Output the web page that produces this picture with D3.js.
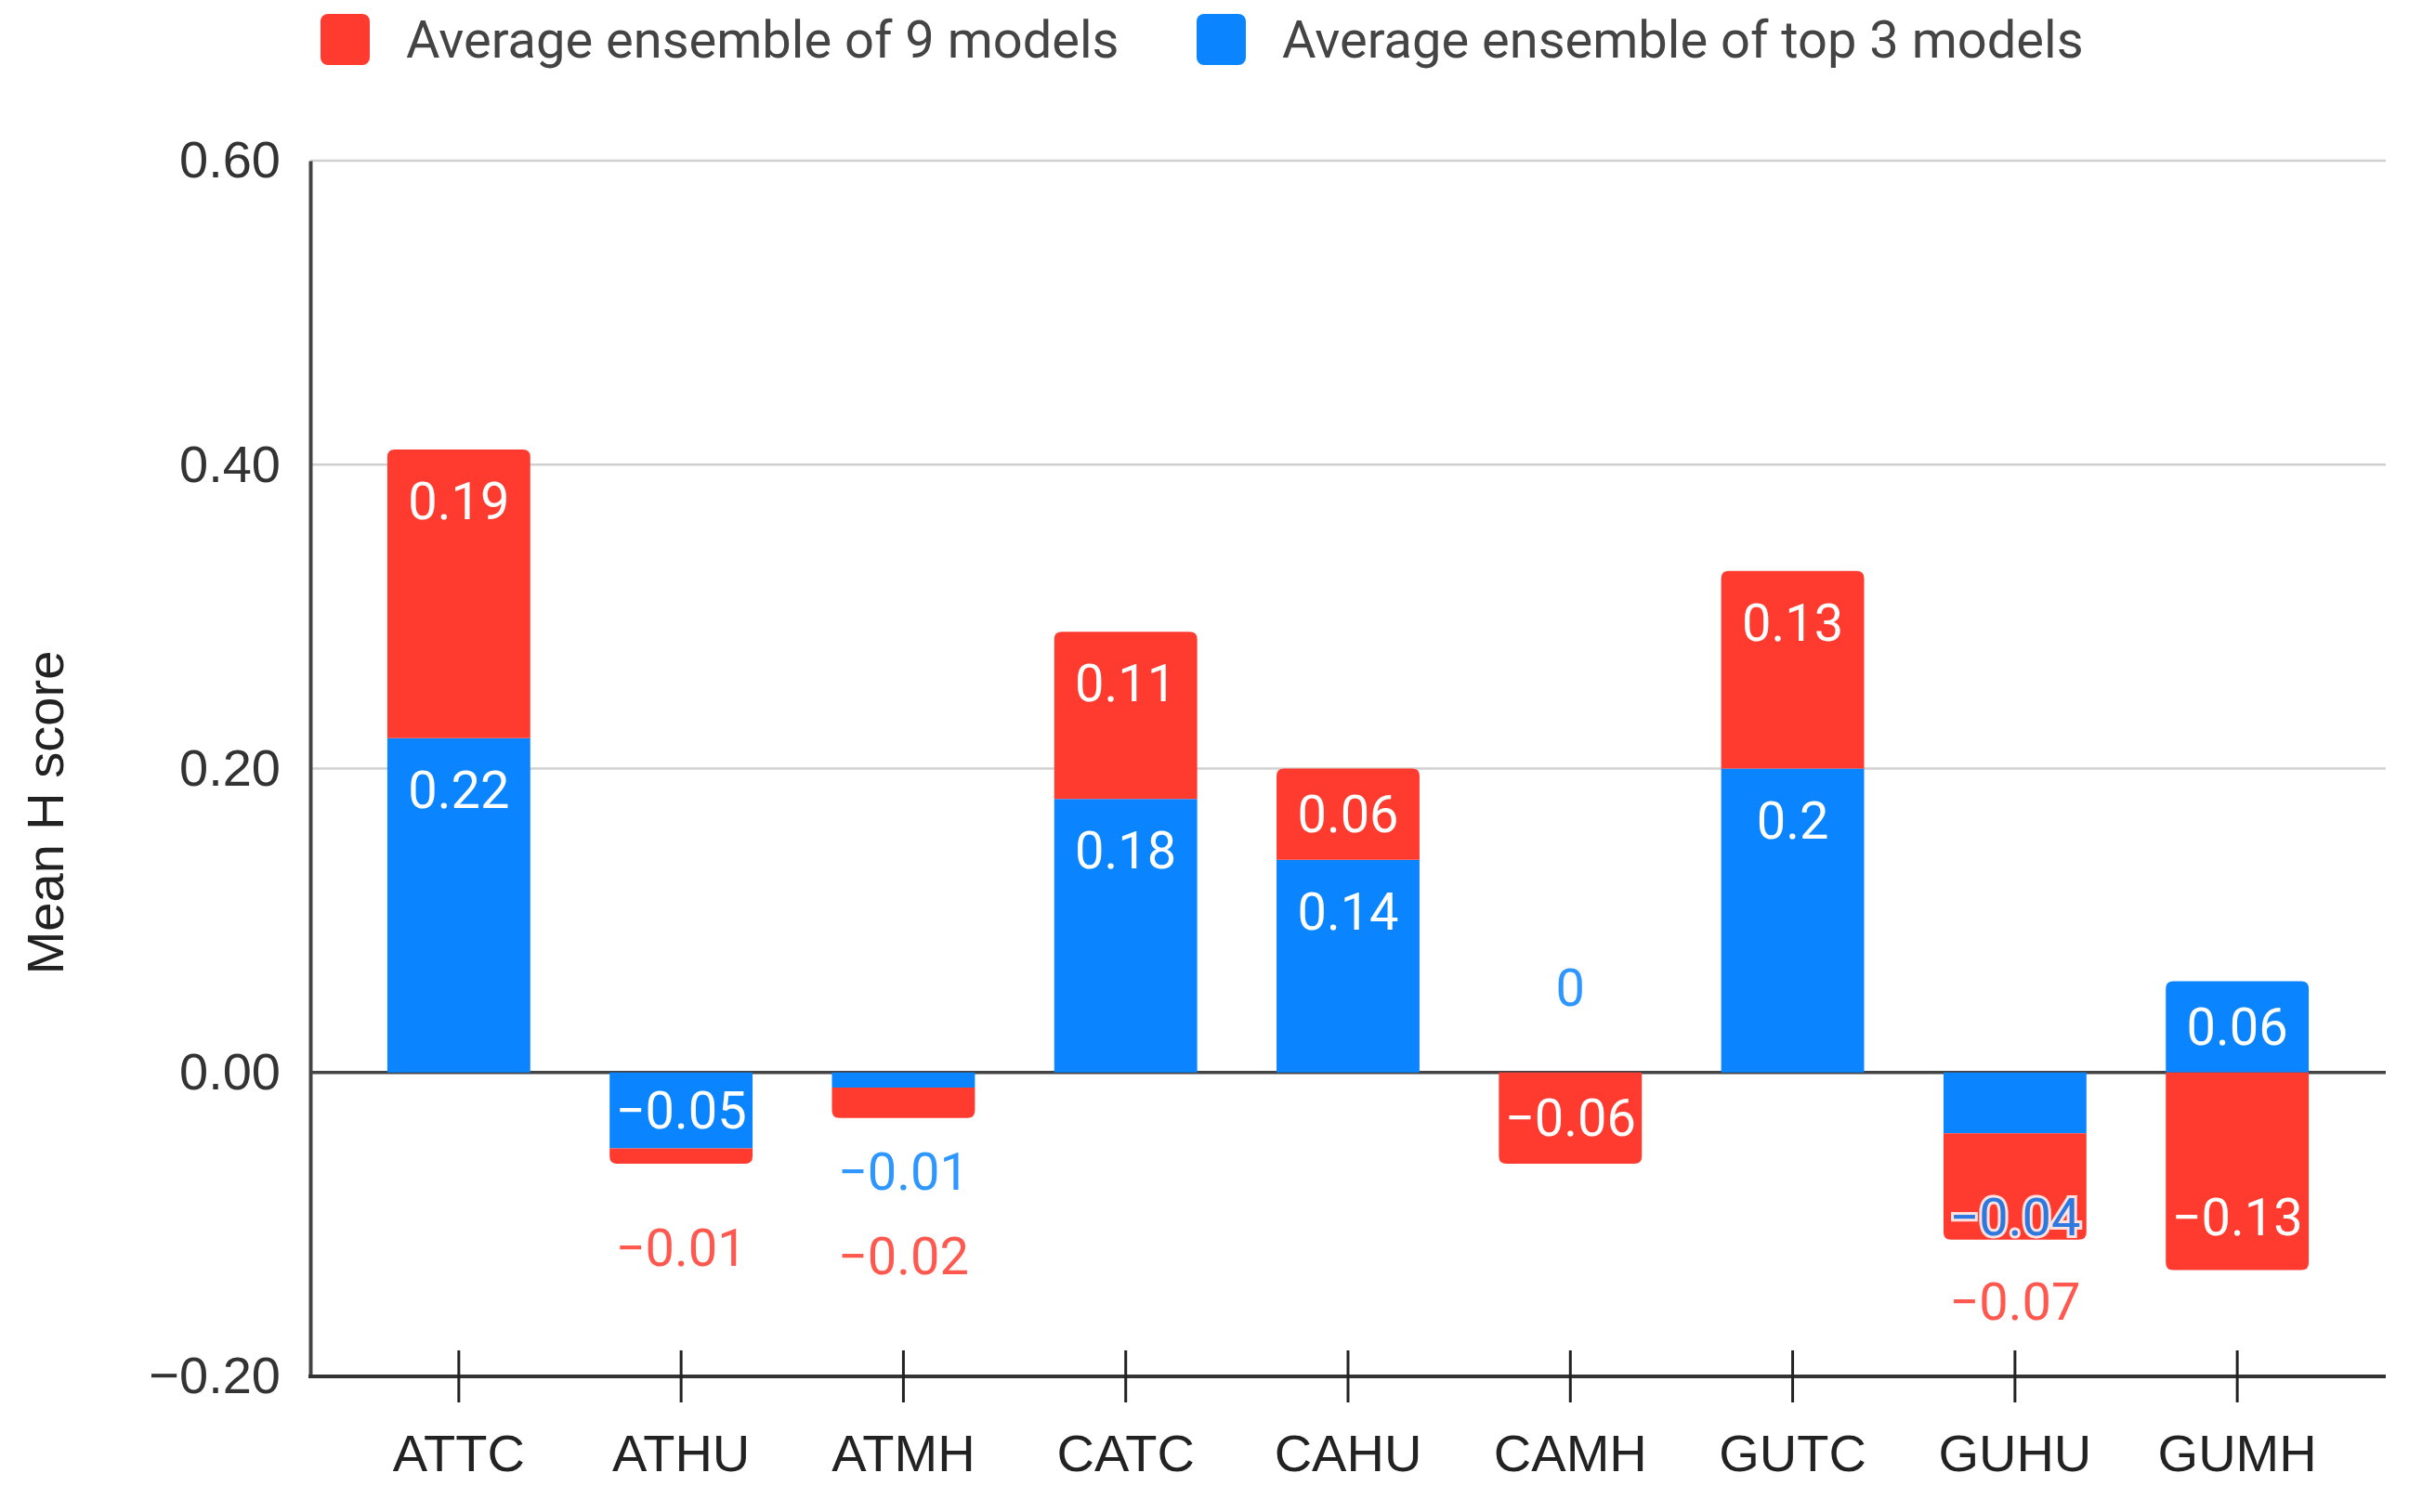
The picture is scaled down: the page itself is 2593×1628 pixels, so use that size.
<!DOCTYPE html>
<html>
<head>
<meta charset="utf-8">
<script src="https://cdn.jsdelivr.net/npm/d3@7"></script>
<style>
  html, body { margin: 0; padding: 0; background: #fff; }
  svg { display: block; }
</style>
</head>
<body>
<script>
// chart data
var categories = ["ATTC", "ATHU", "ATMH", "CATC", "CAHU", "CAMH", "GUTC", "GUHU", "GUMH"];
var top3 = [0.22, -0.05, -0.01, 0.18, 0.14, 0, 0.2, -0.04, 0.06];
var all9 = [0.19, -0.01, -0.02, 0.11, 0.06, -0.06, 0.13, -0.07, -0.13];
var seriesNames = ["Average ensemble of 9 models", "Average ensemble of top 3 models"];
var yTicks = [-0.2, 0, 0.2, 0.4, 0.6];

var colors = { all9: "#ff3b30", top3: "#0a84ff" };

var width = 2593, height = 1628;
var margin = {top: 173, right: 25, bottom: 146, left: 334};

var svg = d3.select("body").append("svg")
  .attr("width", width)
  .attr("height", height);

var x = d3.scaleBand()
  .domain(categories)
  .range([margin.left, width - margin.right])
  .paddingInner(0.357)
  .paddingOuter(0.3465);

var y = d3.scaleLinear()
  .domain([-0.2, 0.6])
  .range([height - margin.bottom, margin.top]);

// gridlines
svg.append("g")
  .selectAll("line")
  .data(yTicks.filter(function(d) { return d > 0; }))
  .enter().append("line")
  .attr("x1", margin.left)
  .attr("x2", width - margin.right)
  .attr("y1", function(d) { return y(d); })
  .attr("y2", function(d) { return y(d); })
  .attr("stroke", "#d0d0d0")
  .attr("stroke-width", 2.5);

// zero line (bars sit on top of it)
svg.append("line")
  .attr("x1", margin.left)
  .attr("x2", width - margin.right)
  .attr("y1", y(0))
  .attr("y2", y(0))
  .attr("stroke", "#444")
  .attr("stroke-width", 3.5);

// y axis
var yAxis = d3.axisLeft(y)
  .tickValues(yTicks)
  .tickFormat(d3.format(".2f"))
  .tickSize(0)
  .tickPadding(32);

svg.append("g")
  .attr("class", "axis axis--y")
  .attr("transform", "translate(" + margin.left + ",0)")
  .call(yAxis)
  .call(function(g) {
    g.select(".domain").attr("stroke", "#444").attr("stroke-width", 4);
    g.selectAll("text")
      .attr("font-family", "Liberation Sans, Arial, sans-serif")
      .attr("font-size", 56)
      .attr("fill", "#333");
  });

// stack: blue first, red outward; positives and negatives stacked separately
var segs = [];
categories.forEach(function(c, i) {
  var pos = 0, neg = 0;
  var parts = [{key: "top3", v: top3[i]}, {key: "all9", v: all9[i]}];
  var list = parts.map(function(p) {
    var s = {cat: c, key: p.key, v: p.v};
    if (p.v >= 0) { s.y0 = pos; pos += p.v; s.y1 = pos; s.side = 1; }
    else { s.y0 = neg; neg += p.v; s.y1 = neg; s.side = -1; }
    return s;
  });
  list.forEach(function(s) {
    var last = list.filter(function(o) { return o.side === s.side && o.v !== 0; });
    s.outer = last.length > 0 && last[last.length - 1] === s;
    segs.push(s);
  });
});

function segPath(s) {
  var x0 = x(s.cat), x1 = x0 + x.bandwidth();
  var ya = y(s.y0), yb = y(s.y1);
  if (s.v === 0) return "";
  var r = s.outer ? Math.min(8, Math.abs(yb - ya)) : 0;
  var p = d3.path();
  if (s.side === 1) {
    p.moveTo(x0, ya);
    p.lineTo(x0, yb + r);
    p.quadraticCurveTo(x0, yb, x0 + r, yb);
    p.lineTo(x1 - r, yb);
    p.quadraticCurveTo(x1, yb, x1, yb + r);
    p.lineTo(x1, ya);
  } else {
    p.moveTo(x0, ya);
    p.lineTo(x0, yb - r);
    p.quadraticCurveTo(x0, yb, x0 + r, yb);
    p.lineTo(x1 - r, yb);
    p.quadraticCurveTo(x1, yb, x1, yb - r);
    p.lineTo(x1, ya);
  }
  p.closePath();
  return p.toString();
}

svg.append("g")
  .selectAll("path")
  .data(segs)
  .enter().append("path")
  .attr("d", segPath)
  .attr("fill", function(d) { return colors[d.key]; });

// x axis at bottom
var xAxis = d3.axisBottom(x).tickSizeInner(28).tickSizeOuter(0).tickPadding(34);
svg.append("g")
  .attr("class", "axis axis--x")
  .attr("transform", "translate(0," + y(-0.2) + ")")
  .call(xAxis)
  .call(function(g) {
    g.select(".domain").attr("stroke", "#333").attr("stroke-width", 4)
      .attr("d", "M" + (margin.left - 2) + ",0H" + (width - margin.right));
    g.selectAll(".tick line").attr("stroke", "#222").attr("stroke-width", 3)
      .attr("y1", -28).attr("y2", 28);
    g.selectAll("text")
      .attr("font-family", "Liberation Sans, Arial, sans-serif")
      .attr("font-size", 56)
      .attr("fill", "#222");
  });

// data labels
function fmt(v) { return String(v).replace("-", "\u2212"); }

var labels = [];
categories.forEach(function(c) {
  [1, -1].forEach(function(side) {
    var forced = false, prevOut = null;
    segs.filter(function(s) { return s.cat === c && s.side === side; }).forEach(function(s) {
      var ya = y(s.y0), yb = y(s.y1);
      var h = Math.abs(yb - ya);
      var mid = (ya + yb) / 2;
      var lab = {cat: c, key: s.key, text: fmt(s.v)};
      if (!forced && h >= 75) {
        lab.y = side === 1 ? Math.min(mid, yb + 56) : Math.max(mid, yb - 56);
        lab.inside = true;
      } else {
        // once a label spills out, the rest of that stack goes outside too
        forced = true;
        var base = prevOut !== null ? prevOut : yb;
        lab.y = base - side * 91;
        prevOut = lab.y;
        lab.inside = false;
      }
      labels.push(lab);
    });
  });
});

svg.append("g")
  .selectAll("text")
  .data(labels)
  .enter().append("text")
  .attr("x", function(d) { return x(d.cat) + x.bandwidth() / 2; })
  .attr("y", function(d) { return d.y; })
  .attr("text-anchor", "middle")
  .attr("dominant-baseline", "central")
  .attr("font-family", "Roboto, sans-serif")
  .attr("font-size", 56)
  .attr("fill", function(d) { return d.inside ? "#fff" : colors[d.key]; })
  .attr("stroke", function(d) { return d.inside ? "none" : "#fff"; })
  .attr("stroke-width", 6)
  .attr("paint-order", "stroke")
  .attr("opacity", function(d) { return d.inside ? 1 : 0.85; })
  .text(function(d) { return d.text; });

// y axis title
svg.append("text")
  .attr("transform", "translate(48," + 875 + ") rotate(-90)")
  .attr("text-anchor", "middle")
  .attr("dominant-baseline", "central")
  .attr("font-family", "Liberation Sans, Arial, sans-serif")
  .attr("font-size", 56)
  .attr("fill", "#222")
  .text("Mean H score");

// legend
var legendItems = [
  {name: seriesNames[0], color: colors.all9, x: 345},
  {name: seriesNames[1], color: colors.top3, x: 1288}
];
var lg = svg.append("g").selectAll("g")
  .data(legendItems)
  .enter().append("g")
  .attr("transform", function(d) { return "translate(" + d.x + ",15)"; });

lg.append("rect")
  .attr("width", 53)
  .attr("height", 55)
  .attr("rx", 8)
  .attr("fill", function(d) { return d.color; });

lg.append("text")
  .attr("x", 92)
  .attr("y", 28)
  .attr("dominant-baseline", "central")
  .attr("font-family", "Roboto, sans-serif")
  .attr("font-size", 56)
  .attr("fill", "#444")
  .text(function(d) { return d.name; });
</script>
</body>
</html>
